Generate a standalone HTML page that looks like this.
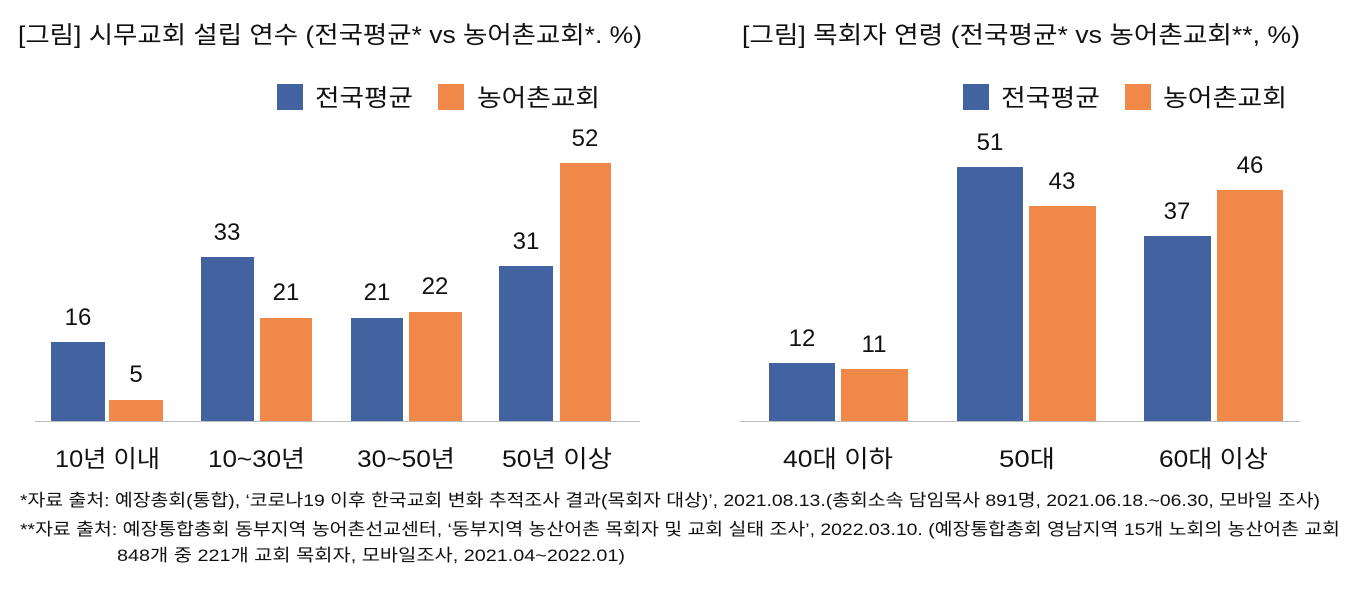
<!DOCTYPE html>
<html><head><meta charset="utf-8"><style>
body{margin:0;background:#fff;width:1360px;height:588px;overflow:hidden}
svg text{font-family:"Liberation Sans","Noto Sans CJK KR",sans-serif;fill:#111}
</style></head><body>
<svg width="1360" height="588" xmlns="http://www.w3.org/2000/svg">
<g font-size="24">
<text x="18" y="43" textLength="624" lengthAdjust="spacingAndGlyphs">[그림] 시무교회 설립 연수 (전국평균* vs 농어촌교회*. %)</text>
<text x="742" y="43" textLength="558" lengthAdjust="spacingAndGlyphs">[그림] 목회자 연령 (전국평균* vs 농어촌교회**, %)</text>
</g>
<g font-size="24">
<rect x="277" y="84" width="26" height="26" fill="#42639f"/><text x="315" y="106" textLength="98" lengthAdjust="spacingAndGlyphs">전국평균</text>
<rect x="438" y="84" width="26" height="26" fill="#ef8848"/><text x="477" y="106" textLength="123" lengthAdjust="spacingAndGlyphs">농어촌교회</text>
<rect x="963" y="84" width="26" height="26" fill="#42639f"/><text x="1001" y="106" textLength="99" lengthAdjust="spacingAndGlyphs">전국평균</text>
<rect x="1125" y="84" width="26" height="26" fill="#ef8848"/><text x="1163" y="106" textLength="124" lengthAdjust="spacingAndGlyphs">농어촌교회</text>
</g>
<line x1="35" y1="421.5" x2="640" y2="421.5" stroke="#bbb"/>
<line x1="740" y1="421.5" x2="1300" y2="421.5" stroke="#bbb"/>
<g fill="#42639f">
<rect x="51" y="342" width="54" height="79"/>
<rect x="201" y="257" width="53" height="164"/>
<rect x="351" y="318" width="52" height="103"/>
<rect x="499" y="266" width="54" height="155"/>
<rect x="769" y="363" width="66" height="58"/>
<rect x="957" y="167" width="66" height="254"/>
<rect x="1144" y="236" width="67" height="185"/>
</g>
<g fill="#ef8848">
<rect x="109" y="400" width="54" height="21"/>
<rect x="260" y="318" width="52" height="103"/>
<rect x="409" y="312" width="53" height="109"/>
<rect x="560" y="163" width="51" height="258"/>
<rect x="841" y="369" width="67" height="52"/>
<rect x="1029" y="206" width="67" height="215"/>
<rect x="1217" y="190" width="66" height="231"/>
</g>
<g font-size="24" text-anchor="middle">
<text x="78" y="325">16</text><text x="136" y="382">5</text>
<text x="227" y="240">33</text><text x="286" y="300">21</text>
<text x="377" y="300">21</text><text x="435" y="294">22</text>
<text x="526" y="249">31</text><text x="585" y="146">52</text>
<text x="802" y="346">12</text><text x="874" y="352">11</text>
<text x="990" y="150">51</text><text x="1062" y="189">43</text>
<text x="1177" y="219">37</text><text x="1250" y="173">46</text>
</g>
<g font-size="24">
<text x="55" y="467" textLength="105" lengthAdjust="spacingAndGlyphs">10년 이내</text>
<text x="208" y="467" textLength="97" lengthAdjust="spacingAndGlyphs">10~30년</text>
<text x="357" y="467" textLength="98" lengthAdjust="spacingAndGlyphs">30~50년</text>
<text x="502" y="467" textLength="110" lengthAdjust="spacingAndGlyphs">50년 이상</text>
<text x="783" y="467" textLength="110" lengthAdjust="spacingAndGlyphs">40대 이하</text>
<text x="999" y="467" textLength="56" lengthAdjust="spacingAndGlyphs">50대</text>
<text x="1159" y="467" textLength="109" lengthAdjust="spacingAndGlyphs">60대 이상</text>
</g>
<g font-size="17" fill="#333">
<text x="20" y="506" textLength="1300" lengthAdjust="spacingAndGlyphs">*자료 출처: 예장총회(통합), ‘코로나19 이후 한국교회 변화 추적조사 결과(목회자 대상)’, 2021.08.13.(총회소속 담임목사 891명, 2021.06.18.~06.30, 모바일 조사)</text>
<text x="20" y="535" textLength="1320" lengthAdjust="spacingAndGlyphs">**자료 출처: 예장통합총회 동부지역 농어촌선교센터, ‘동부지역 농산어촌 목회자 및 교회 실태 조사’, 2022.03.10. (예장통합총회 영남지역 15개 노회의 농산어촌 교회</text>
<text x="117" y="561" textLength="508" lengthAdjust="spacingAndGlyphs">848개 중 221개 교회 목회자, 모바일조사, 2021.04~2022.01)</text>
</g>
</svg>
</body></html>
